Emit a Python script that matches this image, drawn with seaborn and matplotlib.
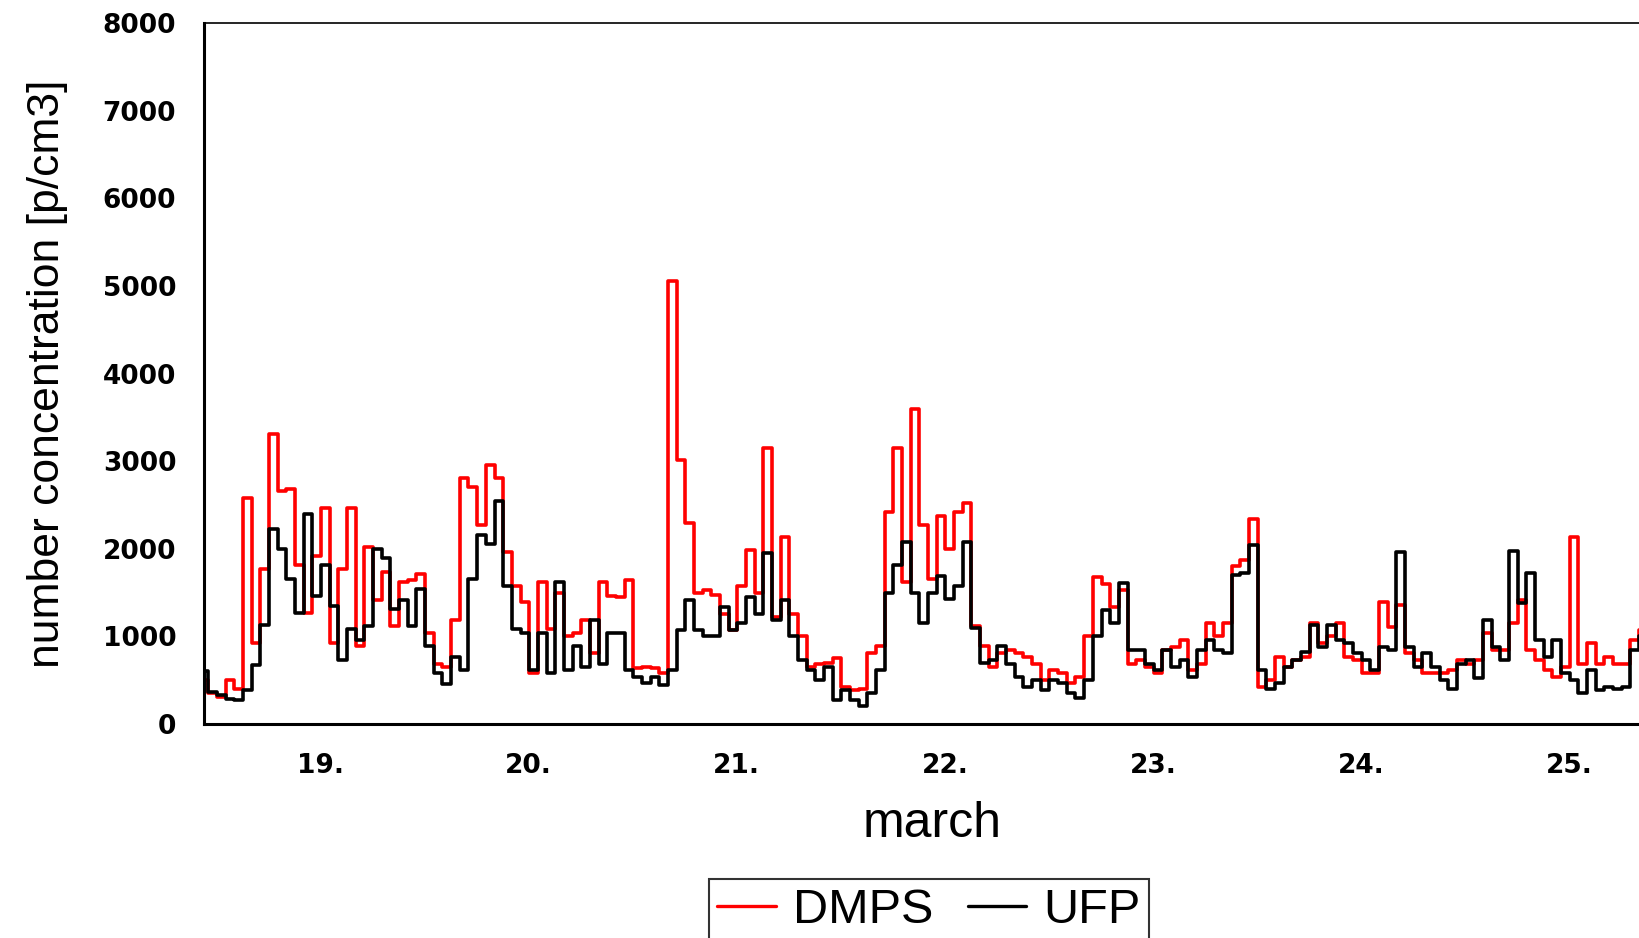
import numpy as np
import pandas as pd
import matplotlib as mpl
from matplotlib import pyplot as plt
import seaborn as sns

sns.set_theme(style='white')

# hourly values from 19 March 00:00
first_day = 19
day_labels = ['19.', '20.', '21.', '22.', '23.', '24.', '25.']

dmps = [
    500, 350, 310, 500, 400, 2580, 920, 1770, 3310, 2660, 2680, 1810,
    1270, 1920, 2460, 920, 1770, 2460, 890, 2020, 1420, 1730, 1120, 1620,
    1640, 1710, 1040, 690, 650, 1190, 2810, 2700, 2270, 2960, 2810, 1960,
    1580, 1390, 580, 1620, 1080, 1500, 1000, 1040, 1190, 810, 1620, 1460,
    1450, 1645, 635, 655, 635, 580, 5050, 3010, 2290, 1490, 1530, 1470,
    1260, 1075, 1570, 1985, 1490, 3150, 1225, 2140, 1260, 1000, 655, 690,
    700, 750, 425, 385, 405, 810, 885, 2425, 3155, 1620, 3600, 2270,
    1655, 2370, 2000, 2425, 2520, 1115, 885, 655, 810, 845, 810, 770,
    690, 500, 615, 580, 465, 540, 1000, 1680, 1600, 1330, 1530, 690,
    730, 655, 580, 845, 880, 960, 615, 690, 1150, 1000, 1150, 1800,
    1870, 2345, 425, 500, 770, 655, 730, 770, 1150, 920, 1000, 1150,
    770, 730, 580, 580, 1395, 1110, 1355, 805, 730, 580, 580, 580,
    615, 730, 690, 730, 1035, 845, 845, 1150, 1415, 845, 730, 615,
    540, 655, 2140, 690, 920, 690, 770, 690, 690, 960, 1075,
]

ufp = [
    600, 365, 330, 290, 270, 385, 675, 1135, 2230, 2000, 1650, 1270,
    2400, 1460, 1810, 1350, 730, 1080, 960, 1120, 2000, 1890, 1310, 1420,
    1120, 1540, 890, 580, 460, 770, 620, 1650, 2160, 2060, 2540, 1580,
    1080, 1040, 620, 1040, 580, 1620, 620, 890, 650, 1190, 690, 1040,
    1035, 615, 540, 465, 540, 445, 615, 1075, 1415, 1075, 1000, 1000,
    1340, 1075, 1150, 1450, 1260, 1950, 1185, 1415, 1000, 730, 615, 500,
    650, 270, 385, 270, 210, 350, 615, 1500, 1810, 2080, 1500, 1155,
    1500, 1695, 1425, 1580, 2080, 1100, 700, 730, 885, 690, 540, 425,
    500, 390, 500, 465, 350, 295, 500, 1000, 1300, 1150, 1605, 845,
    845, 690, 615, 845, 655, 730, 540, 845, 960, 845, 805, 1700,
    1720, 2040, 615, 405, 465, 655, 730, 825, 1130, 880, 1130, 960,
    920, 805, 730, 615, 880, 845, 1965, 880, 655, 805, 655, 500,
    405, 690, 730, 520, 1185, 880, 730, 1980, 1380, 1720, 960, 770,
    960, 580, 500, 350, 615, 390, 425, 405, 425, 845, 1000,
]

day = first_day + np.arange(len(dmps)) / 24
df = pd.concat([
    pd.DataFrame({'day': day, 'conc': dmps, 'series': 'DMPS'}),
    pd.DataFrame({'day': day, 'conc': ufp, 'series': 'UFP'}),
], ignore_index=True)

fig = plt.figure(figsize=(16.4, 9.38), dpi=100)
ax = fig.add_axes([0.1244, 0.2281, 0.8756, 0.7474])

g = sns.lineplot(data=df, x='day', y='conc', hue='series', hue_order=['DMPS', 'UFP'],
                 palette={'DMPS': '#ff0000', 'UFP': '#000000'}, linewidth=2.6,
                 drawstyle='steps-mid', ax=ax, legend=False)

g.set_xlim(19, 25.9)
g.set_ylim(0, 8000)

g.yaxis.set_major_locator(mpl.ticker.MultipleLocator(1000))
g.yaxis.set_major_formatter(mpl.ticker.FuncFormatter(lambda v, pos: f"{int(v)}"))
g.xaxis.set_major_locator(mpl.ticker.FixedLocator(np.arange(19, 26)))
g.xaxis.set_major_formatter(mpl.ticker.NullFormatter())
g.xaxis.set_minor_locator(mpl.ticker.FixedLocator(np.arange(19, 26) + 0.56))
g.xaxis.set_minor_formatter(mpl.ticker.FixedFormatter(day_labels))

g.tick_params(axis='both', which='major', direction='out', length=6, width=1.5, color='black')
g.tick_params(axis='x', which='minor', length=0, pad=21)
g.tick_params(axis='y', which='major', pad=14)
for lab in g.get_yticklabels() + g.get_xticklabels(minor=True):
    lab.set_fontfamily('DejaVu Sans')
    lab.set_fontweight('bold')
    lab.set_fontsize(19)
    lab.set_color('black')

for side in ['left', 'bottom']:
    g.spines[side].set_color('black')
    g.spines[side].set_linewidth(2.2)
g.spines['top'].set_color('black')
g.spines['top'].set_linewidth(1.2)
g.spines['right'].set_visible(False)

g.set_xlabel('march', fontsize=36, family=['Liberation Sans', 'DejaVu Sans'], labelpad=16, color='black')
g.xaxis.label.set_x(0.507)
g.set_ylabel('number concentration [p/cm3]', fontsize=32,
             family=['Liberation Sans', 'DejaVu Sans'], color='black')
g.yaxis.set_label_coords(-0.095, 0.5)

handles = [mpl.lines.Line2D([], [], color='#ff0000', lw=2.4),
           mpl.lines.Line2D([], [], color='#000000', lw=2.4)]
leg = fig.legend(handles, ['DMPS', 'UFP'], loc='upper center', bbox_to_anchor=(0.5665, 0.063),
                 ncol=2, frameon=True, fancybox=False, handlelength=1.2, handletextpad=0.36,
                 columnspacing=0.7, borderpad=0.18, borderaxespad=0, labelcolor='black',
                 prop={'family': 'Liberation Sans', 'size': 35})
leg.get_frame().set_edgecolor('black')
leg.get_frame().set_linewidth(1.5)

fig.savefig('out.png', dpi=100, facecolor='white')
